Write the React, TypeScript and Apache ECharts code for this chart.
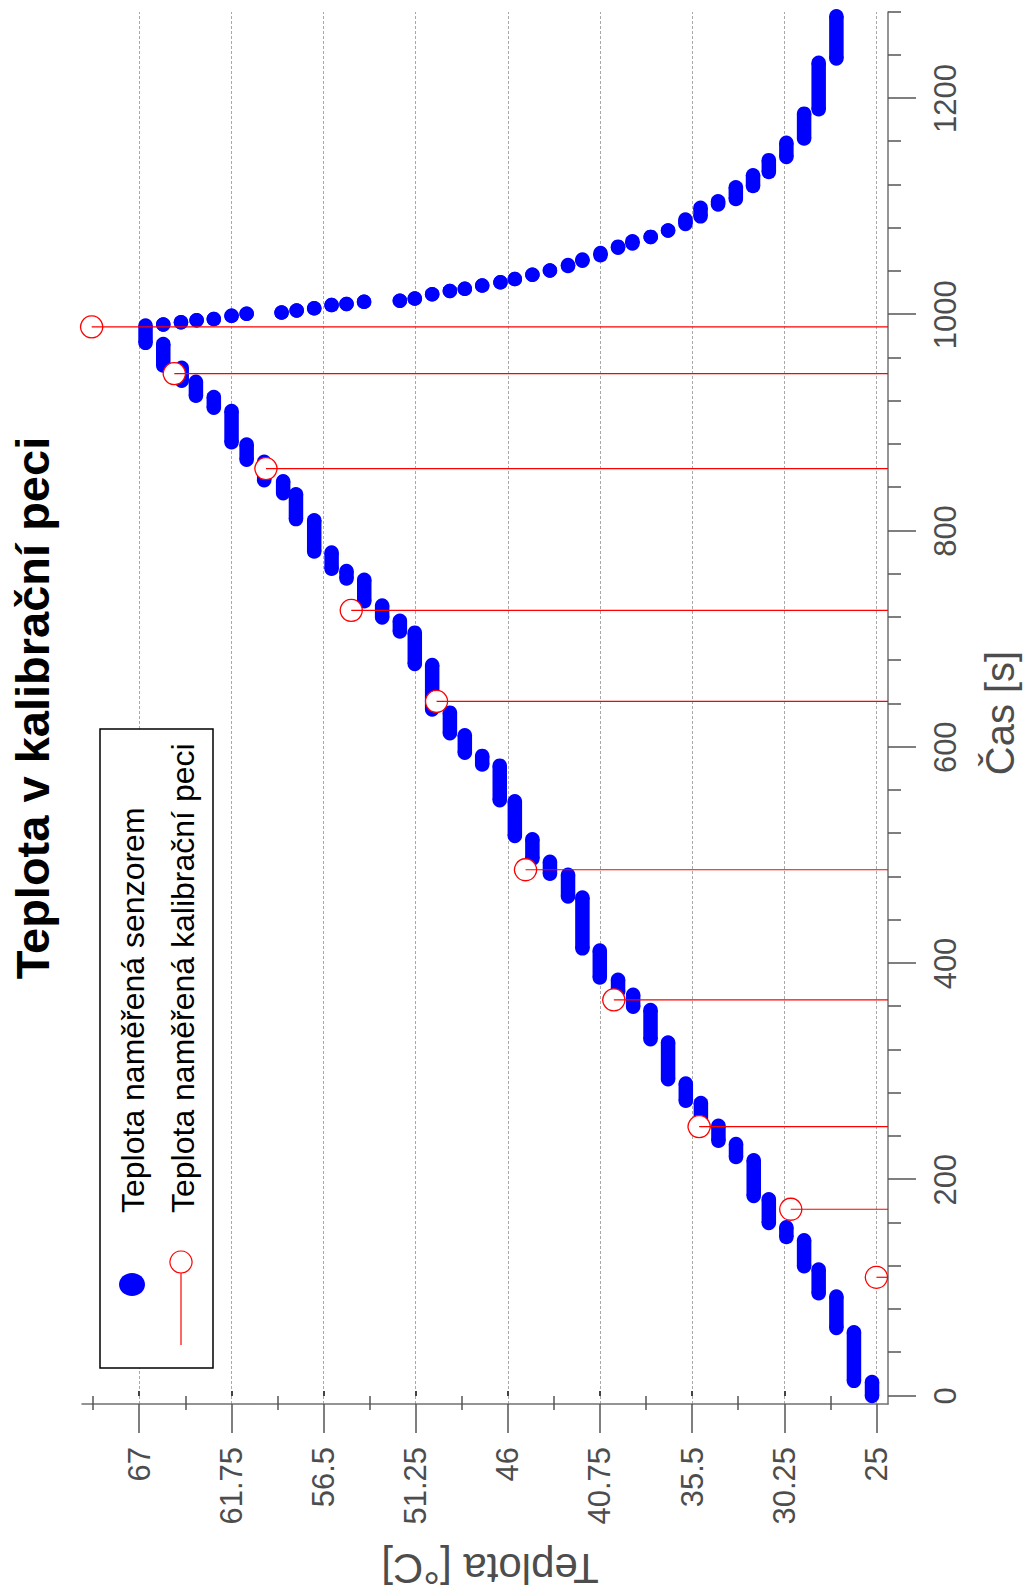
import React, { useEffect, useRef } from 'react';
import * as echarts from 'echarts';

// ---- Data ----
// Sensor readings: each run = consecutive samples with the same temperature
const sensorTimeFrom = [0, 14, 63, 95, 120, 147, 160, 185, 221, 236, 253, 273, 293, 330, 360, 374, 387, 414, 462, 483, 497, 518, 551, 584, 595, 613, 635, 677, 707, 720, 735, 756, 765, 781, 811, 835, 847, 866, 882, 914, 925, 939, 953, 974,
  991, 993, 995, 996, 999, 1001, 1002, 1004, 1006, 1009, 1010, 1012, 1013, 1015, 1019, 1022, 1024, 1027, 1030, 1033, 1037, 1041, 1045, 1050, 1055, 1062, 1066, 1072, 1078, 1084, 1091, 1102, 1107, 1119, 1132, 1146, 1163, 1190, 1237];
const sensorTimeTo = [13, 59, 92, 117, 144, 156, 182, 218, 233, 250, 271, 289, 327, 357, 371, 385, 412, 461, 482, 494, 515, 550, 583, 592, 611, 632, 676, 706, 717, 731, 755, 763, 780, 810, 834, 846, 864, 880, 911, 924, 938, 951, 973, 990,
  991, 993, 995, 996, 999, 1001, 1002, 1004, 1006, 1009, 1010, 1012, 1013, 1015, 1019, 1022, 1024, 1027, 1030, 1033, 1037, 1041, 1046, 1051, 1057, 1063, 1068, 1072, 1078, 1088, 1099, 1105, 1118, 1129, 1143, 1159, 1186, 1233, 1276];
const sensorTemp = [25.25, 26.28, 27.28, 28.29, 29.12, 30.13, 31.13, 31.99, 33.0, 34.0, 35.0, 35.86, 36.87, 37.87, 38.86, 39.72, 40.76, 41.75, 42.57, 43.6, 44.6, 45.6, 46.46, 47.46, 48.45, 49.3, 50.31, 51.3, 52.15, 53.16, 54.18, 55.19, 56.04, 57.03, 58.07, 58.8, 59.88, 60.88, 61.74, 62.75, 63.77, 64.58, 65.63, 66.64,
  65.63, 64.62, 63.73, 62.75, 61.74, 60.88, 58.89, 58.03, 57.03, 56.04, 55.19, 54.19, 52.15, 51.3, 50.31, 49.3, 48.45, 47.46, 46.42, 45.6, 44.6, 43.6, 42.57, 41.75, 40.72, 39.72, 38.9, 37.86, 36.87, 35.88, 35.02, 34.02, 33.01, 32.03, 31.13, 30.13, 29.12, 28.29, 27.28];

// Calibration oven readings (stem plot)
const ovenTime = [109.8, 172.7, 249.2, 366.4, 486.7, 642.4, 726.6, 857.7, 945.6, 988.8];
const ovenTemp = [25.0, 29.88, 35.1, 39.96, 44.99, 50.06, 54.92, 59.78, 65.0, 69.71];

// Axes
const timeRange = [-7.4, 1280];
const tempRange = [24.34, 70.26];
const timeTicks = [0, 200, 400, 600, 800, 1000, 1200];
const timeMinorTicks = [40, 80, 120, 160, 240, 280, 320, 360, 440, 480, 520, 560, 640, 680, 720, 760, 840, 880, 920, 960, 1040, 1080, 1120, 1160, 1240, 1280];
const tempTicks = [25, 30.25, 35.5, 40.75, 46, 51.25, 56.5, 61.75, 67];
const tempMinorTicks = [27.625, 32.875, 38.125, 43.375, 48.625, 53.875, 59.125, 64.375, 69.625];

const titleText = 'Teplota v kalibrační peci';
const xName = 'Čas [s]';
const yName = 'Teplota [°C]';
const legendNames = ['Teplota naměřená senzorem', 'Teplota naměřená kalibrační peci'];

const FONT = "'Liberation Sans', Arial, Helvetica, sans-serif";
const W = 1591;
const H = 1024;

export default function App() {
  const ref = useRef<HTMLDivElement>(null);

  useEffect(() => {
    if (!ref.current) return;
    const chart = echarts.init(ref.current, undefined, { renderer: 'svg', width: W, height: H });

    const sensorData = sensorTemp.map((t, i) => [sensorTimeFrom[i], sensorTimeTo[i], t]);
    const ovenData = ovenTemp.map((t, i) => [ovenTime[i], t]);

    const axisLineStyle = { color: '#707070', width: 1.5 };
    const tickStyle = { color: '#555555', width: 1.5 };

    const option: any = {
      animation: false,
      backgroundColor: '#ffffff',
      grid: { left: 187, right: 12, top: 82, bottom: 136, containLabel: false },
      xAxis: [
        {
          type: 'value', min: timeRange[0], max: timeRange[1], position: 'bottom',
          axisLine: { show: true, onZero: false, lineStyle: axisLineStyle },
          axisTick: { show: true, inside: false, length: 28, customValues: timeTicks, lineStyle: tickStyle },
          axisLabel: { show: true, customValues: timeTicks, margin: 42, fontSize: 31, color: '#4d4d4d', fontFamily: FONT, formatter: (v: number) => String(v) },
          splitLine: { show: false },
        },
        {
          type: 'value', min: timeRange[0], max: timeRange[1], position: 'bottom',
          axisLine: { show: false },
          axisTick: { show: true, inside: false, length: 13, customValues: timeMinorTicks, lineStyle: tickStyle },
          axisLabel: { show: false },
          splitLine: { show: false },
        },
      ],
      yAxis: [
        {
          type: 'value', min: tempRange[0], max: tempRange[1], position: 'left',
          axisLine: { show: true, onZero: false, lineStyle: axisLineStyle },
          axisTick: { show: true, inside: false, length: 29, customValues: tempTicks, lineStyle: tickStyle },
          axisLabel: { show: true, customValues: tempTicks, margin: 43, fontSize: 31, color: '#4d4d4d', fontFamily: FONT, formatter: (v: number) => String(v) },
          splitLine: { show: true, lineStyle: { color: '#a8a8a8', width: 1, type: [3, 2] } },
        },
        {
          type: 'value', min: tempRange[0], max: tempRange[1], position: 'left',
          axisLine: { show: false },
          axisTick: { show: true, inside: false, length: 14, customValues: tempMinorTicks, lineStyle: tickStyle },
          axisLabel: { show: false },
          splitLine: { show: false },
        },
        {
          type: 'value', min: tempRange[0], max: tempRange[1], position: 'right',
          axisLine: { show: false },
          axisTick: { show: true, inside: false, length: 5, customValues: tempTicks, lineStyle: { color: '#444', width: 2 } },
          axisLabel: { show: false },
          splitLine: { show: false },
        },
      ],
      series: [
        {
          type: 'custom',
          name: legendNames[0],
          coordinateSystem: 'cartesian2d',
          xAxisIndex: 0,
          yAxisIndex: 0,
          encode: { x: [0, 1], y: 2 },
          data: sensorData,
          z: 2,
          renderItem: (params: any, api: any) => {
            const a = api.coord([api.value(0), api.value(2)]);
            const b = api.coord([api.value(1), api.value(2)]);
            const r = 7.25;
            return {
              type: 'group',
              children: [
                { type: 'circle', shape: { cx: a[0], cy: a[1], r }, style: { fill: '#0000ff' } },
                { type: 'circle', shape: { cx: b[0], cy: b[1], r }, style: { fill: '#0000ff' } },
                { type: 'rect', shape: { x: a[0], y: a[1] - r, width: Math.max(0, b[0] - a[0]), height: 2 * r }, style: { fill: '#0000ff' } },
              ],
            };
          },
        },
        {
          type: 'custom',
          name: legendNames[1],
          coordinateSystem: 'cartesian2d',
          xAxisIndex: 0,
          yAxisIndex: 0,
          encode: { x: 0, y: 1 },
          data: ovenData,
          z: 3,
          renderItem: (params: any, api: any) => {
            const p = api.coord([api.value(0), api.value(1)]);
            const base = api.coord([api.value(0), tempRange[0]]);
            return {
              type: 'group',
              children: [
                { type: 'circle', shape: { cx: p[0], cy: p[1], r: 11 }, style: { fill: '#ffffff', stroke: '#ff0000', lineWidth: 1.3 } },
                { type: 'line', shape: { x1: p[0], y1: p[1], x2: base[0], y2: base[1] }, style: { stroke: '#ff0000', lineWidth: 1.2 } },
              ],
            };
          },
        },
      ],
      graphic: [
        {
          type: 'text', x: 883, y: 32, z: 10,
          style: { text: titleText, fontSize: 47, fontWeight: 'bold', fontFamily: FONT, fill: '#000000', align: 'center', verticalAlign: 'middle' },
        },
        {
          type: 'text', x: 878, y: 1000, z: 10,
          style: { text: xName, fontSize: 40, fontFamily: FONT, fill: '#4d4d4d', align: 'center', verticalAlign: 'middle' },
        },
        {
          type: 'text', x: 23, y: 490, rotation: Math.PI / 2, z: 10,
          style: { text: yName, fontSize: 42, fontFamily: FONT, fill: '#4d4d4d', align: 'center', verticalAlign: 'middle' },
        },
        // Legend
        {
          type: 'rect', z: 20,
          shape: { x: 223, y: 100, width: 639, height: 113 },
          style: { fill: '#ffffff', stroke: '#000000', lineWidth: 1.5 },
        },
        {
          type: 'ellipse', z: 21,
          shape: { cx: 306.5, cy: 132, rx: 11.5, ry: 13 },
          style: { fill: '#0000ff' },
        },
        {
          type: 'text', x: 378, y: 133, z: 21,
          style: { text: legendNames[0], fontSize: 32, fontFamily: FONT, fill: '#000000', align: 'left', verticalAlign: 'middle' },
        },
        {
          type: 'line', z: 21,
          shape: { x1: 246, y1: 181, x2: 329, y2: 181 },
          style: { stroke: '#ff0000', lineWidth: 1.2 },
        },
        {
          type: 'circle', z: 22,
          shape: { cx: 329, cy: 181, r: 11 },
          style: { fill: '#ffffff', stroke: '#ff0000', lineWidth: 1.2 },
        },
        {
          type: 'text', x: 378, y: 183, z: 21,
          style: { text: legendNames[1], fontSize: 32, fontFamily: FONT, fill: '#000000', align: 'left', verticalAlign: 'middle' },
        },
      ],
    };

    chart.setOption(option);
    return () => {
      chart.dispose();
    };
  }, []);

  return (
    <div style={{ position: 'absolute', left: 0, top: 0, width: 1024, height: 1591, overflow: 'hidden', background: '#fff' }}>
      <div
        ref={ref}
        style={{
          position: 'absolute',
          left: 0,
          top: 0,
          width: W,
          height: H,
          transformOrigin: '0 0',
          transform: 'translate(0px, 1591px) rotate(-90deg)',
        }}
      />
    </div>
  );
}
